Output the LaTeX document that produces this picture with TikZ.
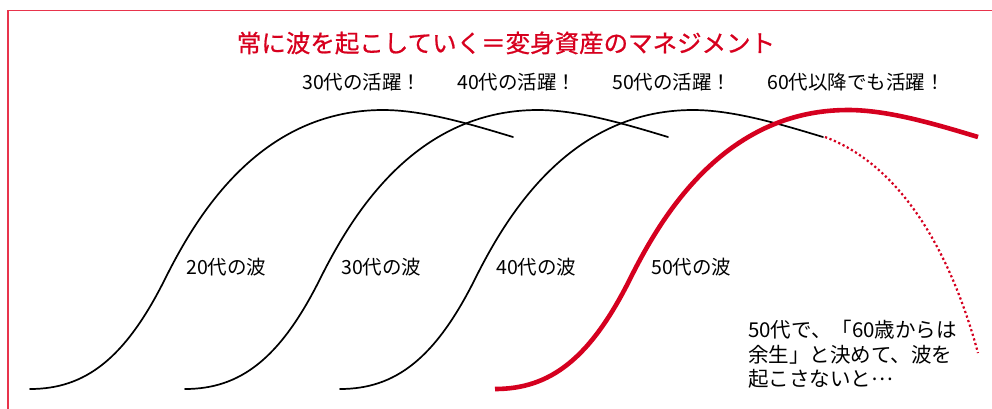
\documentclass[tikz,border=0pt]{standalone}
\usepackage{fontspec}
\newfontfamily\jp{Noto Sans CJK JP}
\newfontfamily\jpm{Noto Sans CJK JP}[FakeBold=0.7]
\definecolor{framered}{HTML}{E8344C}
\definecolor{wavered}{HTML}{D5001F}
\definecolor{titlered}{HTML}{D7001E}
\tikzset{
  wave/.style={line width=1.7pt, black, line cap=round},
  redwave/.style={line width=4.6pt, wavered},
  reddots/.style={line width=2.2pt, wavered, dash pattern=on 2.2pt off 2.6pt},
  frameline/.style={line width=1.3pt, framered},
  titletext/.style={inner sep=0pt, text=titlered, font={\jpm\fontsize{24.5}{28}\selectfont}},
  lbl/.style={inner sep=0pt, anchor=west, font={\jp\fontsize{19.5}{23}\selectfont}},
  note/.style={inner sep=0pt, anchor=north west, align=left, font={\jp\fontsize{20.5}{24.5}\selectfont}}
}
\newcommand{\wavepath}{(0,0) .. controls (55,0) and (95,-30) .. (135,-110) .. controls (165,-170) and (228,-279) .. (353,-279) .. controls (393,-279) and (440,-265) .. (483,-252)}
\begin{document}
\begin{tikzpicture}[x=1pt,y=-1pt]
\useasboundingbox (0,0) rectangle (992,408);
% frame
\draw[frameline] (8,420) -- (8,10.3) -- (1000,10.3);
% title
\node[titletext] (title) at (506,43) {常に波を起こしていく＝変身資産のマネジメント};
% black waves
\foreach \s in {30,185,340} {
  \draw[wave, shift={(\s,389)}] \wavepath;
}
% red wave
\draw[redwave, shift={(495,389)}] \wavepath;
% dotted continuation
\coordinate (dotA) at (825,137);
\coordinate (dotB) at (978,353);
\draw[reddots] (dotA) .. controls (900,165) and (950,250) .. (dotB);
% top labels
\node[lbl] (a30) at (302,82) {30代の活躍！};
\node[lbl] (a40) at (457,82) {40代の活躍！};
\node[lbl] (a50) at (612,82) {50代の活躍！};
\node[lbl] (a60) at (767,82) {60代以降でも活躍！};
% wave labels
\node[lbl] (w20) at (186,267) {20代の波};
\node[lbl] (w30) at (341,267) {30代の波};
\node[lbl] (w40) at (496,267) {40代の波};
\node[lbl] (w50) at (651,267) {50代の波};
% note
\node[note] (note) at (748,320) {50代で、「60歳からは\\余生」と決めて、波を\\起こさないと\smash{\raisebox{0.3em}{…}}};
\end{tikzpicture}
\end{document}
